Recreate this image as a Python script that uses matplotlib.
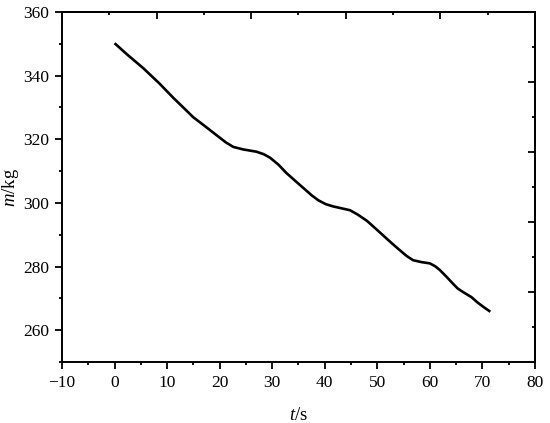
import matplotlib
matplotlib.use("Agg")
import matplotlib.pyplot as plt
import numpy as np
from matplotlib.ticker import MultipleLocator, FixedLocator

plt.rcParams['font.family'] = ['Liberation Serif', 'DejaVu Serif']
plt.rcParams['mathtext.fontset'] = 'custom'
plt.rcParams['mathtext.it'] = 'Liberation Serif:italic'
plt.rcParams['mathtext.rm'] = 'Liberation Serif'

t_s = [0.0, 2.5, 5.5, 8.5, 11.2, 13.2, 15.0, 17.3, 19.4, 21.2, 22.6, 24.5, 27.0, 28.4, 29.6, 31.2,
       32.7, 35.3, 37.5, 38.8, 40.2, 41.6, 43.2, 44.8, 46.3, 48.0, 49.5, 51.1, 52.7, 54.3, 55.6,
       56.8, 58.4, 60.0, 61.0, 61.9, 63.1, 64.4, 65.3, 66.3, 67.9, 69.0, 70.2, 71.5]
m_kg = [350.2, 346.5, 342.3, 337.6, 333.0, 329.8, 326.9, 324.0, 321.3, 319.0, 317.6, 316.8, 316.1, 315.3, 314.2, 312.0,
        309.4, 305.6, 302.4, 300.8, 299.6, 298.9, 298.3, 297.7, 296.3, 294.4, 292.2, 289.8, 287.4, 285.1, 283.3,
        282.0, 281.4, 281.0, 280.1, 278.9, 276.9, 274.6, 273.1, 272.0, 270.4, 268.8, 267.3, 265.8]

xticks = [-10, 0, 10, 20, 30, 40, 50, 60, 70, 80]
yticks = [260, 280, 300, 320, 340, 360]
xlim = (-10, 80)
ylim = (250, 360)

fig = plt.figure(figsize=(5.5, 4.23), dpi=100)
ax = fig.add_axes([0.1127, 0.1442, 0.86, 0.8274])
ax.plot(t_s, m_kg, color='black', linewidth=1.9, solid_capstyle='butt')

ax.set_xlim(*xlim)
ax.set_ylim(*ylim)
ax.set_xticks(xticks)
ax.set_yticks(yticks)
ax.set_xticklabels(['\u221210'] + [str(v) for v in xticks[1:]])
ax.xaxis.set_minor_locator(MultipleLocator(5))
ax.yaxis.set_minor_locator(MultipleLocator(10))

for s in ax.spines.values():
    s.set_linewidth(1.4)

ax.tick_params(which='both', direction='out', width=1.3, labelsize=12.5, top=False, right=False)
ax.tick_params(which='major', length=5, pad=4)
ax.tick_params(which='minor', length=2.5)

# top and right axes: independent 5-division tick marks, inward, no labels
top_major = np.linspace(xlim[0], xlim[1], 6)
top_minor = (top_major[:-1] + top_major[1:]) / 2
right_major = np.linspace(ylim[0], ylim[1], 6)
right_minor = (right_major[:-1] + right_major[1:]) / 2

axt = ax.secondary_xaxis('top')
axt.xaxis.set_major_locator(FixedLocator(top_major))
axt.xaxis.set_minor_locator(FixedLocator(top_minor))
axt.tick_params(which='both', direction='in', width=1.3, labeltop=False)
axt.tick_params(which='major', length=5)
axt.tick_params(which='minor', length=2.5)
axr = ax.secondary_yaxis('right')
axr.yaxis.set_major_locator(FixedLocator(right_major))
axr.yaxis.set_minor_locator(FixedLocator(right_minor))
axr.tick_params(which='both', direction='in', width=1.3, labelright=False)
axr.tick_params(which='major', length=5)
axr.tick_params(which='minor', length=2.5)
axt.spines['top'].set_linewidth(1.4)
axr.spines['right'].set_linewidth(1.4)

ax.set_xlabel(r'$\mathit{t}$/s', fontsize=13.5, labelpad=12)
ax.set_ylabel(r'$\mathit{m}$/kg', fontsize=13.5, labelpad=2)

fig.savefig('out.png', dpi=100)
